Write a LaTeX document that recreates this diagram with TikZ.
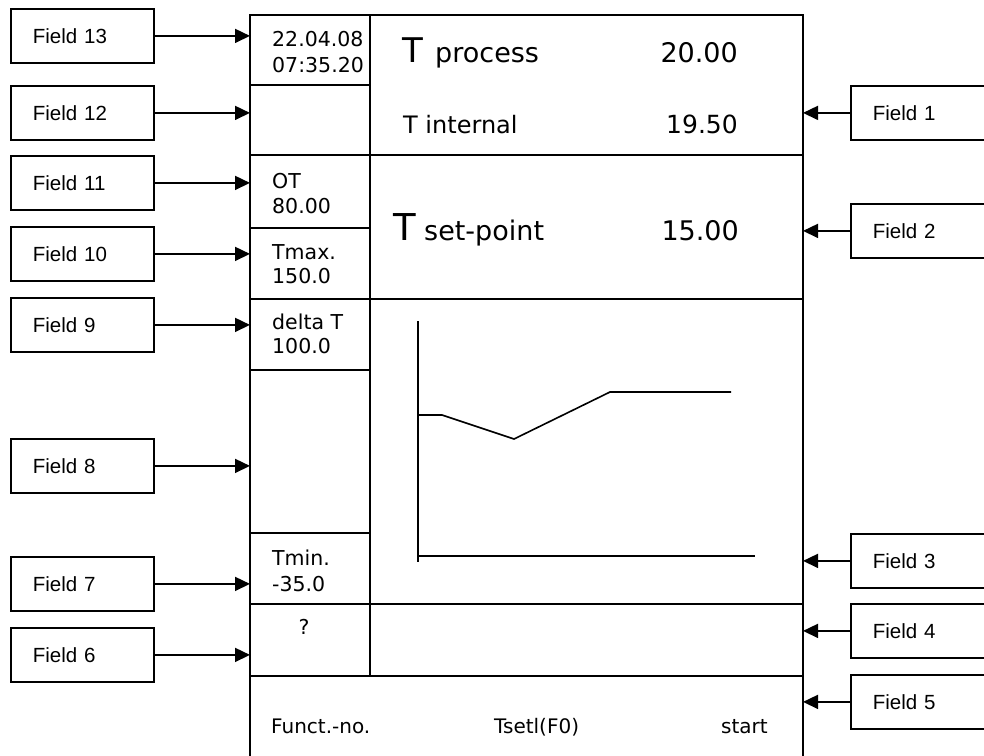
\documentclass[tikz,border=0pt]{standalone}
\usepackage{fontspec}
\setmainfont{Liberation Sans}
\newfontfamily\disp{DejaVu Sans}
\usetikzlibrary{arrows.meta}
\newcommand{\fs}[1]{\fontsize{#1}{#1}\selectfont}
\begin{document}
\begin{tikzpicture}[x=1pt,y=-1pt,
  frameline/.style={line width=1.8pt},
  fieldbox/.style={draw,line width=1.8pt,rectangle,minimum height=54pt,inner ysep=0pt,
     inner xsep=0pt,align=left,font=\fs{20.5},anchor=north west},
  lbox/.style={fieldbox,minimum width=143pt,text width=143pt},
  rbox/.style={fieldbox,minimum width=170pt,text width=170pt},
  arr/.style={line width=1.6pt,-{Triangle[length=15pt,width=14pt]}},
  dtxt/.style={inner sep=0pt,anchor=base west,font=\disp\fs{20.5}},
  graphline/.style={line width=1.6pt}]
\useasboundingbox (0,0) rectangle (984,755);
% frame
\draw[frameline] (250,760) -- (250,15) -- (803,15) -- (803,760);
\draw[frameline] (370,15) -- (370,676);
\foreach \yy in {85,155,228,299,370,533,604}
  \draw[frameline] (250,\yy) -- (370,\yy);
\foreach \yy in {155,299,604}
  \draw[frameline] (370,\yy) -- (803,\yy);
\draw[frameline] (250,676) -- (803,676);
\coordinate (FL) at (250,0);
\coordinate (FR) at (803,0);
% left field boxes
\node[lbox] (f13) at (10,8)   {\hspace*{22pt}Field 13};
\node[lbox] (f12) at (10,85)  {\hspace*{22pt}Field 12};
\node[lbox] (f11) at (10,155) {\hspace*{22pt}Field 11};
\node[lbox] (f10) at (10,226) {\hspace*{22pt}Field 10};
\node[lbox] (f9)  at (10,297) {\hspace*{22pt}Field 9};
\node[lbox] (f8)  at (10,438) {\hspace*{22pt}Field 8};
\node[lbox] (f7)  at (10,556) {\hspace*{22pt}Field 7};
\node[lbox] (f6)  at (10,627) {\hspace*{22pt}Field 6};
% right field boxes
\node[rbox] (f1) at (850,85)  {\hspace*{22pt}Field 1};
\node[rbox] (f2) at (850,203) {\hspace*{22pt}Field 2};
\node[rbox] (f3) at (850,533) {\hspace*{22pt}Field 3};
\node[rbox] (f4) at (850,603) {\hspace*{22pt}Field 4};
\node[rbox] (f5) at (850,674) {\hspace*{22pt}Field 5};
% arrows
\foreach \n in {f13,f12,f11,f10,f9,f8,f7,f6}
  \draw[arr] (\n.east) -- (\n.east -| FL);
\foreach \n in {f1,f2,f3,f4,f5}
  \draw[arr] (\n.west) -- (\n.west -| FR);
% left column texts
\node[dtxt] (d1) at (272,46) {22.04.08};
\node[dtxt] (d2) at (272,72) {07:35.20};
\node[dtxt] (ot1) at (272,188) {OT};
\node[dtxt] (ot2) at (272,213) {80.00};
\node[dtxt] (tx1) at (272,259) {Tmax.};
\node[dtxt] (tx2) at (272,283) {150.0};
\node[dtxt] (dt1) at (272,329) {delta T};
\node[dtxt] (dt2) at (272,353) {100.0};
\node[dtxt] (tn1) at (272,565) {Tmin.};
\node[dtxt] (tn2) at (272,591) {-35.0};
\node[dtxt,anchor=base] (q) at (304,634) {?};
% main texts
\node[dtxt,font=\disp\fs{34}] (tp1) at (402,62) {T};
\node[dtxt,font=\disp\fs{27}] (tp2) at (435,62) {process};
\node[dtxt,anchor=base east,font=\disp\fs{27}] (tp3) at (738,62) {20.00};
\node[dtxt,font=\disp\fs{24}] (ti1) at (403,133) {T internal};
\node[dtxt,anchor=base east,font=\disp\fs{25}] (ti2) at (738,133) {19.50};
\node[dtxt,font=\disp\fs{37}] (ts1) at (393,240) {T};
\node[dtxt,font=\disp\fs{27}] (ts2) at (424,240) {set-point};
\node[dtxt,anchor=base east,font=\disp\fs{27}] (ts3) at (739,240) {15.00};
% bottom texts
\node[dtxt,font=\disp\fs{20}] (b1) at (271,733) {Funct.-no.};
\node[dtxt,font=\disp\fs{20}] (b2) at (494,733) {Tsetl(F0)};
\node[dtxt,font=\disp\fs{20}] (b3) at (721,733) {start};
% graph
\draw[graphline] (418,321) -- (418,562);
\draw[graphline] (418,556) -- (755,556);
\draw[graphline] (418,415) -- (442,415) -- (514,439) -- (610,392) -- (731,392);
\end{tikzpicture}
\end{document}
